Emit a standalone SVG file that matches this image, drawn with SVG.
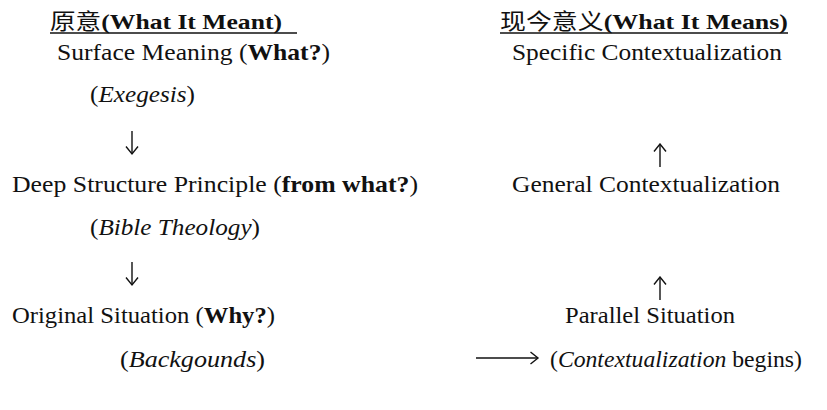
<svg xmlns="http://www.w3.org/2000/svg" width="827" height="410" viewBox="0 0 827 410">
<defs>
<style>
text{font-family:'Liberation Serif','Times New Roman','DejaVu Serif',serif;font-size:23px;fill:#111}
.t{font-size:22px}
.b{font-weight:bold}
.i{font-style:italic}
.cjk{font-family:'Noto Sans CJK SC',sans-serif;font-weight:normal}
.ul{stroke:#111;stroke-width:1.3}
.c{stroke:#111;stroke-width:1.4;fill:none}
</style>
<marker id="ah" viewBox="0 0 10 14" refX="8.5" refY="7" markerWidth="10" markerHeight="14" markerUnits="userSpaceOnUse" orient="auto">
<path d="M1,1 L8.5,7 L1,13" fill="none" stroke="#111" stroke-width="1.4"/>
</marker>
</defs>
<rect width="827" height="410" fill="#fff"/>
<g id="title-left">
<text class="t" x="50" y="29" textLength="232" lengthAdjust="spacingAndGlyphs"><tspan class="cjk">原意</tspan><tspan class="b">(What It Meant)</tspan></text>
<line class="ul" x1="50" y1="33" x2="297" y2="33"/>
</g>
<g id="title-right">
<text class="t" x="500" y="29" textLength="288" lengthAdjust="spacingAndGlyphs"><tspan class="cjk">现今意义</tspan><tspan class="b">(What It Means)</tspan></text>
<line class="ul" x1="500" y1="33" x2="788" y2="33"/>
</g>
<g id="surface">
<text x="57" y="60" textLength="273" lengthAdjust="spacingAndGlyphs">Surface Meaning (<tspan class="b">What?</tspan>)</text>
<text x="90" y="102" textLength="105" lengthAdjust="spacingAndGlyphs">(<tspan class="i">Exegesis</tspan>)</text>
</g>
<g id="deep">
<text x="12" y="192" textLength="406" lengthAdjust="spacingAndGlyphs">Deep Structure Principle (<tspan class="b">from what?</tspan>)</text>
<text x="90" y="235" textLength="170" lengthAdjust="spacingAndGlyphs">(<tspan class="i">Bible Theology</tspan>)</text>
</g>
<g id="original">
<text x="12" y="323" textLength="263" lengthAdjust="spacingAndGlyphs">Original Situation (<tspan class="b">Why?</tspan>)</text>
<text x="120" y="367" textLength="145" lengthAdjust="spacingAndGlyphs">(<tspan class="i">Backgounds</tspan>)</text>
</g>
<g id="specific">
<text x="512" y="60" textLength="270" lengthAdjust="spacingAndGlyphs">Specific Contextualization</text>
</g>
<g id="general">
<text x="512" y="192" textLength="268" lengthAdjust="spacingAndGlyphs">General Contextualization</text>
</g>
<g id="parallel">
<text x="565" y="323" textLength="170" lengthAdjust="spacingAndGlyphs">Parallel Situation</text>
<text x="550" y="367" textLength="252" lengthAdjust="spacingAndGlyphs">(<tspan class="i">Contextualization</tspan> begins)</text>
</g>
<g id="connectors">
<line class="c" x1="132" y1="131" x2="132" y2="154" marker-end="url(#ah)"/>
<line class="c" x1="132" y1="262" x2="132" y2="285" marker-end="url(#ah)"/>
<line class="c" x1="660" y1="167" x2="660" y2="144" marker-end="url(#ah)"/>
<line class="c" x1="660" y1="300" x2="660" y2="277" marker-end="url(#ah)"/>
<line class="c" x1="476" y1="358" x2="538" y2="358" marker-end="url(#ah)"/>
</g>
</svg>
